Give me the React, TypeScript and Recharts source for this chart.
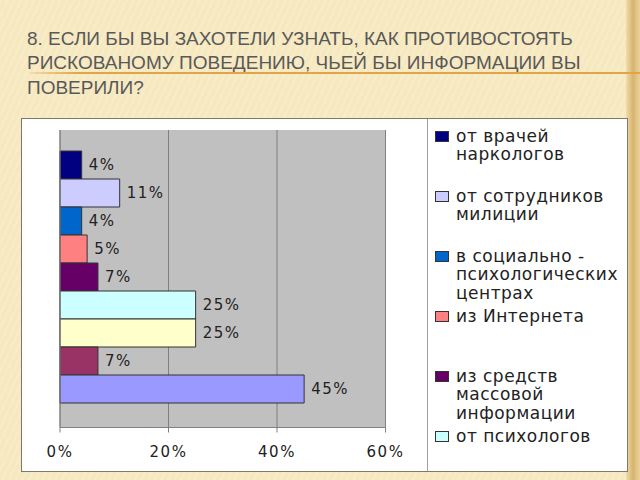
import { BarChart, Bar, XAxis, YAxis, CartesianGrid, LabelList } from 'recharts'

const titleLines = [
    '8. ЕСЛИ БЫ ВЫ ЗАХОТЕЛИ УЗНАТЬ, КАК ПРОТИВОСТОЯТЬ',
    'РИСКОВАНОМУ ПОВЕДЕНИЮ, ЧЬЕЙ БЫ ИНФОРМАЦИИ ВЫ',
    'ПОВЕРИЛИ?'
]

const category = ''

const seriesNames = [
    'от врачей наркологов',
    'от сотрудников милиции',
    'в социально - психологических центрах',
    'из Интернета',
    'из средств массовой информации',
    'от психологов',
    'от учителей',
    'от друзей',
    'от родителей'
]

const seriesValues = [0.04, 0.11, 0.04, 0.05, 0.07, 0.25, 0.25, 0.07, 0.45]

const seriesColors = [
    '#000080',
    '#ccccff',
    '#0066cc',
    '#ff8080',
    '#660066',
    '#ccffff',
    '#ffffcc',
    '#993366',
    '#9999ff'
]

const xTicks = [0, 0.2, 0.4, 0.6]

const row: Record<string, string | number> = { name: category }
seriesValues.forEach((v, i) => {
    row['s' + i] = v
})
const data = [row]

const pct = (v: any) => `${Math.round(Number(v) * 100)}%`

const numFont = {
    fontFamily: 'DejaVu Sans',
    fontSize: 15,
    fill: '#222',
    letterSpacing: 1.5
}

const LEGEND_H = 352
const ITEM_H = 60
const ITEM_TOP = 7.75

// the legend box is too short for every entry, like in the original only the ones that fit are shown
function ChartLegend() {
    const visible = seriesNames.filter((_, i) => ITEM_TOP + i * ITEM_H + 20 <= LEGEND_H)
    return (
        <div
            style={{
                position: 'absolute',
                left: 405,
                top: 0,
                width: 200,
                height: LEGEND_H,
                borderLeft: '1px solid #a0a0a0',
                overflow: 'hidden'
            }}
        >
            {visible.map((name, i) => (
                <div
                    key={name}
                    style={{
                        position: 'absolute',
                        left: 0,
                        top: ITEM_TOP + i * ITEM_H,
                        width: 200,
                        height: ITEM_H
                    }}
                >
                    <div
                        style={{
                            position: 'absolute',
                            left: 7,
                            top: 4,
                            width: 12,
                            height: 9,
                            background: seriesColors[i],
                            border: '1px solid #333'
                        }}
                    />
                    <div
                        style={{
                            position: 'absolute',
                            left: 28,
                            top: 0,
                            width: 168,
                            fontFamily: 'DejaVu Sans',
                            fontSize: 17,
                            letterSpacing: 0.5,
                            lineHeight: '18.5px',
                            color: '#222'
                        }}
                    >
                        {name}
                    </div>
                </div>
            ))}
        </div>
    )
}

export default function App() {
    return (
        <div
            style={{
                position: 'absolute',
                left: 0,
                top: 0,
                width: 640,
                height: 480,
                overflow: 'hidden',
                background:
                    'repeating-linear-gradient(115deg, rgba(255,255,255,0.18) 0px, rgba(255,255,255,0.18) 2px, rgba(0,0,0,0) 2px, rgba(0,0,0,0) 6px), #f6e8bf'
            }}
        >
            <div
                style={{
                    position: 'absolute',
                    right: 0,
                    top: 0,
                    width: 14,
                    height: 480,
                    background: 'linear-gradient(to right, #f1dcaa, #d6b46e 50%, #ead29c)'
                }}
            />
            <div
                style={{
                    position: 'absolute',
                    left: 27,
                    top: 26.5,
                    fontFamily: 'Liberation Sans',
                    fontSize: 19,
                    lineHeight: '24.5px',
                    color: '#595959'
                }}
            >
                {titleLines.map((t) => (
                    <div key={t} style={{ whiteSpace: 'nowrap' }}>
                        {t}
                    </div>
                ))}
            </div>
            <div
                style={{
                    position: 'absolute',
                    left: 30,
                    top: 72,
                    width: 610,
                    height: 1.5,
                    background: 'linear-gradient(to right, rgba(226,164,71,0.2), #e2a447 8%, #e2a447)'
                }}
            />
            <div
                style={{
                    position: 'absolute',
                    left: 21,
                    top: 118,
                    width: 607,
                    height: 354,
                    boxSizing: 'border-box',
                    border: '1px solid #7d7a6c',
                    background: '#fff'
                }}
            >
                <BarChart
                    width={605}
                    height={352}
                    data={data}
                    layout="vertical"
                    barGap={0}
                    barCategoryGap={21}
                    margin={{ top: 11, right: 241.5, left: 0, bottom: 13.5 }}
                >
                    <CartesianGrid
                        horizontal={false}
                        stroke="#808080"
                        fill="#c0c0c0"
                        fillOpacity={1}
                    />
                    <XAxis
                        type="number"
                        domain={[0, 0.6]}
                        ticks={xTicks}
                        tickFormatter={pct}
                        height={30}
                        stroke="#808080"
                        tickSize={5}
                        tickMargin={14}
                        tick={numFont}
                    />
                    <YAxis
                        type="category"
                        dataKey="name"
                        width={38}
                        tick={false}
                        tickLine={false}
                        stroke="#808080"
                    />
                    {seriesNames.map((name, i) => (
                        <Bar
                            key={name}
                            dataKey={'s' + i}
                            name={name}
                            fill={seriesColors[i]}
                            stroke="#333"
                            strokeWidth={1}
                            isAnimationActive={false}
                        >
                            <LabelList
                                dataKey={'s' + i}
                                position="right"
                                offset={7}
                                formatter={pct}
                                style={numFont}
                            />
                        </Bar>
                    ))}
                </BarChart>
                <ChartLegend />
            </div>
        </div>
    )
}
